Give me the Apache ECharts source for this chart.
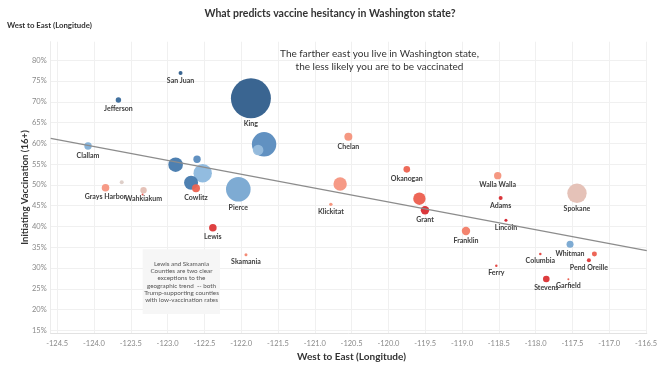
<!DOCTYPE html>
<html>
<head>
<meta charset="utf-8">
<script src="https://cdn.jsdelivr.net/npm/echarts@6/dist/echarts.min.js"></script>
<style>html,body{margin:0;padding:0;background:#fff}#c{width:660px;height:371px}</style>
</head>
<body>
<div id="c"></div>
<script>
// ---- data ----
const counties = ['King','Snohomish','Pierce','Clark','Spokane','Thurston','Kitsap','Yakima','Benton','Skagit','Cowlitz','Grant','Franklin','Chelan','Lewis','Grays Harbor','Clallam','Island','Walla Walla','Whitman','Okanogan','Stevens','Wahkiakum','Jefferson','Asotin','San Juan','Adams','Pend Oreille','Pacific','Klickitat','Skamania','Lincoln','Columbia','Ferry','Mason','Garfield'];
const longitude = [-121.868,-121.689,-122.039,-122.523,-117.438,-122.891,-122.681,-120.656,-119.579,-121.77,-122.614,-119.503,-118.946,-120.544,-122.385,-123.843,-124.081,-122.600,-118.515,-117.532,-119.750,-117.855,-123.327,-123.668,-117.201,-122.824,-118.475,-117.276,-123.623,-120.782,-121.935,-118.403,-117.936,-118.534,-123.34,-117.555];
const vaccinated = [70.83,59.77,48.94,52.79,47.98,54.86,50.53,50.22,46.68,58.4,49.19,43.89,38.91,61.6,39.71,49.33,59.36,56.16,52.22,35.71,53.75,27.37,48.70,70.43,33.38,76.92,46.85,31.87,50.63,45.33,33.21,41.49,33.38,30.57,47.7,27.29];
const population = [2250,837,851,476,529,300,276,252,216,158,90,99,99,90,81,81,77,77,77,69,62,62,57,41,35,22.5,22.5,22.5,22,16,12.7,12.7,8.8,8.8,5.6,5.6];
const lean = [-0.95,-0.6,-0.45,-0.35,0.1,-0.72,-0.72,0.4,0.72,-0.3,0.7,0.95,0.55,0.42,0.9,0.4,-0.4,-0.6,0.42,-0.45,0.7,0.92,0.1,-0.85,0.72,-0.95,0.95,0.9,0.0,0.42,0.5,1.0,0.85,0.85,0.8,0.75];
const labeledCounties = ['King','Pierce','Spokane','Cowlitz','Grant','Franklin','Chelan','Lewis','Grays Harbor','Clallam','Walla Walla','Whitman','Okanogan','Stevens','Wahkiakum','Jefferson','San Juan','Adams','Pend Oreille','Klickitat','Skamania','Lincoln','Columbia','Ferry','Garfield'];
const trendSlope = -3.335;
const trendIntercept = -354.29;
const xTicks = [-124.5,-124.0,-123.5,-123.0,-122.5,-122.0,-121.5,-121.0,-120.5,-120.0,-119.5,-119.0,-118.5,-118.0,-117.5,-117.0,-116.5];
const yTicks = [15,20,25,30,35,40,45,50,55,60,65,70,75,80];
const xMin = -124.588, xMax = -116.49, yMin = 14.3, yMax = 84.45;

const FONT = 'Lato, "Noto Sans", sans-serif';
const points = counties.map((n,i)=>({
  value:[longitude[i], vaccinated[i], population[i], lean[i]],
  name:n,
  label:{show: labeledCounties.indexOf(n) >= 0}
}));
const trend = [xMin, xMax].map(x => [x, trendIntercept + trendSlope * x]);

const chart = echarts.init(document.getElementById('c'), null, {renderer:'canvas'});
chart.setOption({
  animation:false,
  backgroundColor:'#fff',
  grid:{left:50.7, right:8, top:41.7, bottom:37.7},
  xAxis:{
    type:'value', min:xMin, max:xMax,
    axisLine:{show:true, lineStyle:{color:'#e2e2e2'}},
    axisTick:{show:false, customValues:xTicks},
    axisLabel:{customValues:xTicks, formatter:v=>v.toFixed(1), color:'#8a8a8a', fontSize:7.5, fontFamily:FONT, margin:6},
    splitLine:{show:true, lineStyle:{color:'#f0f0f0', width:1}}
  },
  yAxis:{
    type:'value', min:yMin, max:yMax,
    axisLine:{show:true, lineStyle:{color:'#ececec'}},
    axisTick:{show:false, customValues:yTicks},
    axisLabel:{customValues:yTicks, formatter:v=>v+'%', color:'#8a8a8a', fontSize:7.5, fontFamily:FONT, margin:4},
    splitLine:{show:true, lineStyle:{color:'#f0f0f0', width:1}}
  },
  visualMap:{
    show:false, type:'continuous', seriesIndex:0, dimension:3, min:-1, max:1,
    inRange:{color:['#2a5783','#4a7fb5','#8fbbe0','#dcccc6','#f6a089','#f06a55','#d4202a']}
  },
  series:[
    {
      type:'scatter',
      data:points,
      symbolSize:v=>2*Math.sqrt(v[2]/5.625),
      itemStyle:{opacity:0.95},
      label:{position:'bottom', distance:2.2, formatter:'{b}', color:'#333', fontSize:7, fontWeight:'bold', fontFamily:FONT},
      z:2
    },
    {
      type:'line', data:trend, symbol:'none', silent:true,
      lineStyle:{color:'#8c8c8c', width:1.2}, z:5
    }
  ],
  graphic:[
    {type:'text', z:20, x:330, y:14, style:{text:'What predicts vaccine hesitancy in Washington state?', fontSize:10.5, fontWeight:'bold', fill:'#333', fontFamily:FONT, align:'center', verticalAlign:'middle'}},
    {type:'text', z:20, x:7, y:25, style:{text:'West to East (Longitude)', fontSize:7.8, fontWeight:'bold', fill:'#333', fontFamily:FONT, verticalAlign:'middle'}},
    {type:'text', z:20, x:379.5, y:60, style:{text:'The farther east you live in Washington state,\nthe less likely you are to be vaccinated', fontSize:10, lineHeight:13.4, fill:'#333', fontFamily:FONT, align:'center', verticalAlign:'middle'}},
    {type:'text', z:20, x:351.5, y:356.7, style:{text:'West to East (Longitude)', fontSize:10, fontWeight:'bold', fill:'#333', fontFamily:FONT, align:'center', verticalAlign:'middle'}},
    {type:'text', z:20, x:25, y:187.5, rotation:Math.PI/2, style:{text:'Initiating Vaccination (16+)', fontSize:9.6, fontWeight:'bold', fill:'#333', fontFamily:FONT, align:'center', verticalAlign:'middle'}},
    {type:'rect', z:10, shape:{x:142.7, y:249.3, width:77.3, height:64.7}, style:{fill:'#f6f6f6'}},
    {type:'text', z:20, x:181.5, y:282, style:{text:'Lewis and Skamania\nCounties are two clear\nexceptions to the\ngeographic trend  -- both\nTrump-supporting counties\nwith low-vaccination rates', fontSize:6.3, lineHeight:7.2, fill:'#555', fontFamily:FONT, align:'center', verticalAlign:'middle'}}
  ]
});
</script>
</body>
</html>
